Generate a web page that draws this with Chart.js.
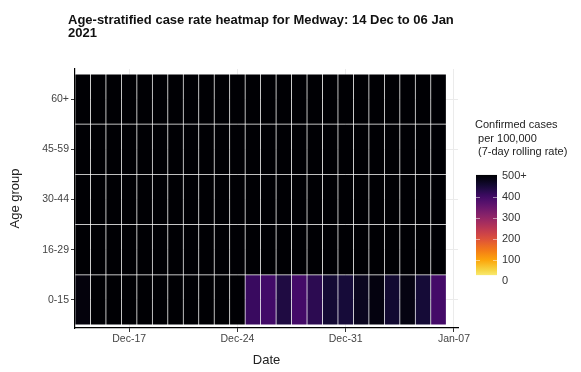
<!DOCTYPE html>
<html>
<head>
<meta charset="utf-8">
<script src="https://cdn.jsdelivr.net/npm/chart.js@4/dist/chart.umd.min.js"></script>
<style>
  body { margin: 0; background: #fff; }
  #heat { display: block; }
</style>
</head>
<body>
<canvas id="heat" width="581" height="372"></canvas>
<script>
// days shown, 14 Dec 2020 .. 06 Jan 2021 (index 0..23)
const dates = ['14 Dec','15 Dec','16 Dec','17 Dec','18 Dec','19 Dec','20 Dec','21 Dec','22 Dec','23 Dec','24 Dec','25 Dec',
  '26 Dec','27 Dec','28 Dec','29 Dec','30 Dec','31 Dec','01 Jan','02 Jan','03 Jan','04 Jan','05 Jan','06 Jan']
const ageGroups = ['0-15','16-29','30-44','45-59','60+']

// 7-day rolling case rate per 100,000 (colour capped at 500)
const rate0_15  = [492,530,560,590,610,640,650,660,640,610,560,410,400,440,398,425,455,450,475,490,458,488,452,398]
const rate16_29 = [760,800,850,900,940,980,1010,1040,1060,1080,1090,1100,1080,1060,1050,1040,1030,1020,1000,980,960,940,910,880]
const rate30_44 = [640,680,720,760,800,830,860,880,900,910,920,920,910,900,890,880,870,860,850,840,820,800,780,760]
const rate45_59 = [600,640,680,720,750,780,800,820,840,850,860,860,850,840,830,820,810,800,790,780,770,750,730,710]
const rate60    = [520,550,580,610,640,660,680,700,720,730,740,740,730,720,710,700,690,680,670,660,650,640,630,620]
const rates = [rate0_15, rate16_29, rate30_44, rate45_59, rate60]

const xTickDays = [3, 10, 17, 24]
const xTickLabels = ['Dec-17','Dec-24','Dec-31','Jan-07']
const legendBreaks = [0, 100, 200, 300, 400, 500]

// inferno colour map
const inferno = ['#000004','#160b39','#420a68','#6a176e','#932667','#bc3754','#dd513a','#f37819','#fca50a','#f6d746','#fcffa4']

function hexRgb(h){
  return [parseInt(h.slice(1,3),16), parseInt(h.slice(3,5),16), parseInt(h.slice(5,7),16)]
}
function infernoAt(t){
  t = Math.max(0, Math.min(1, t))
  const p = t * (inferno.length - 1)
  const i = Math.min(Math.floor(p), inferno.length - 2)
  const f = p - i
  const a = hexRgb(inferno[i]), b = hexRgb(inferno[i+1])
  const c = a.map((v,k)=>Math.round(v + (b[k]-v)*f))
  return `rgb(${c[0]},${c[1]},${c[2]})`
}
function rateColour(v){
  return infernoAt(1 - Math.min(v, 500) / 500)
}

const datasets = rates.map((row, g)=>({
  label: ageGroups[g],
  data: row.map((v, i)=>({x: i, y: [g, g + 1]})),
  backgroundColor: row.map(rateColour),
  borderColor: 'rgba(255,255,255,0.2)',
  borderWidth: 0.7,
  borderSkipped: false,
  barPercentage: 1,
  categoryPercentage: 1,
  grouped: false
}))

// title + colourbar legend
const extras = {
  id: 'extras',
  afterDraw(chart){
    const ctx = chart.ctx
    ctx.save()
    ctx.fillStyle = '#111'
    ctx.font = 'bold 13px "Liberation Sans", Arial, sans-serif'
    ctx.textBaseline = 'middle'
    ctx.textAlign = 'left'
    ctx.fillText('Age-stratified case rate heatmap for Medway: 14 Dec to 06 Jan', 68, 20)
    ctx.fillText('2021', 68, 33)

    ctx.font = '11px "Liberation Sans", Arial, sans-serif'
    ctx.fillStyle = '#222'
    ctx.fillText('Confirmed cases', 475, 125)
    ctx.fillText(' per 100,000', 475, 139)
    ctx.fillText(' (7-day rolling rate)', 475, 152)

    // colour bar
    const x0 = 476, w = 21
    const yOf = v => 281 - v * 0.21
    const top = yOf(505), bot = yOf(28)
    const grad = ctx.createLinearGradient(0, bot, 0, top)
    for(let k = 0; k <= 20; k++){
      const v = 28 + (505 - 28) * k / 20
      grad.addColorStop(k / 20, rateColour(v))
    }
    ctx.fillStyle = grad
    ctx.fillRect(x0, top, w, bot - top)
    ctx.strokeStyle = 'rgba(255,255,255,0.5)'
    ctx.lineWidth = 1
    legendBreaks.forEach(b=>{
      const y = Math.round(yOf(b)) + 0.5
      if(y > top + 2 && y < bot){
        ctx.beginPath()
        ctx.moveTo(x0, y); ctx.lineTo(x0 + 4, y)
        ctx.moveTo(x0 + w - 4, y); ctx.lineTo(x0 + w, y)
        ctx.stroke()
      }
    })
    ctx.fillStyle = '#333'
    ctx.font = '11px "Liberation Sans", Arial, sans-serif'
    legendBreaks.forEach(b=>{
      ctx.fillText(b === 500 ? '500+' : String(b), 502, yOf(b))
    })
    ctx.restore()
  }
}

const tickFont = {family: '"Liberation Sans", Arial, sans-serif', size: 10.5}
const titleFont = {family: '"Liberation Sans", Arial, sans-serif', size: 13}

new Chart(document.getElementById('heat').getContext('2d'), {
  type: 'bar',
  data: {datasets: datasets},
  plugins: [extras],
  options: {
    responsive: false,
    animation: false,
    layout: {padding: {left: 0, top: 69, right: 123, bottom: 0}},
    plugins: {legend: {display: false}, tooltip: {enabled: false}},
    scales: {
      x: {
        type: 'linear',
        offset: false,
        min: -0.5,
        max: 24.26,
        afterBuildTicks: s => { s.ticks = xTickDays.map(v=>({value: v})) },
        afterFit: s => { s.height = 44 },
        ticks: {
          color: '#444', font: tickFont, padding: 1, maxRotation: 0,
          callback: v => xTickLabels[xTickDays.indexOf(v)]
        },
        grid: {offset: false, color: '#ebebeb', tickColor: '#333', tickLength: 4},
        border: {color: '#000', width: 1.2},
        title: {display: true, text: 'Date', color: '#222', font: titleFont, padding: {top: 0, bottom: 4}}
      },
      y: {
        type: 'linear',
        min: -0.06,
        max: 5.1,
        afterBuildTicks: s => { s.ticks = ageGroups.map((a, i)=>({value: i + 0.5})) },
        afterFit: s => { s.width = 75 },
        ticks: {
          color: '#444', font: tickFont, padding: 2,
          callback: v => ageGroups[Math.floor(v)]
        },
        grid: {color: '#ebebeb', tickColor: '#333', tickLength: 4},
        border: {color: '#000', width: 1.2},
        title: {display: true, text: 'Age group', color: '#222', font: titleFont, padding: {top: 8, bottom: 0}}
      }
    }
  }
})
</script>
</body>
</html>
